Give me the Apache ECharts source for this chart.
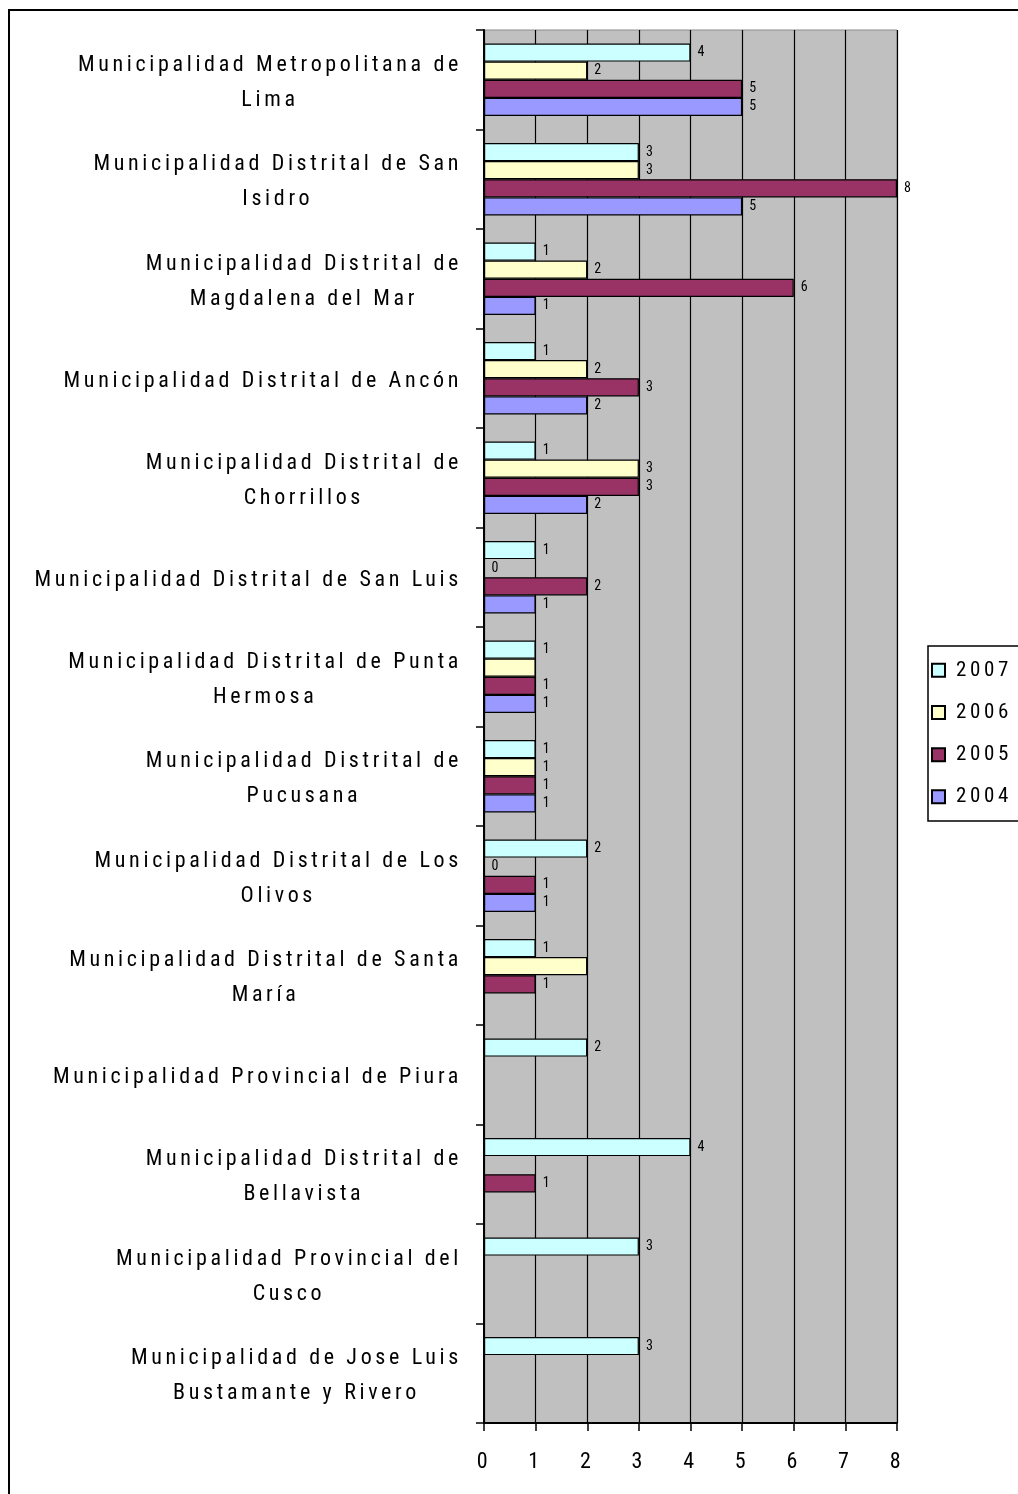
<!DOCTYPE html>
<html>
<head>
<meta charset="utf-8">
<script src="https://cdn.jsdelivr.net/npm/echarts@6/dist/echarts.min.js"></script>
<style>
html,body{margin:0;padding:0;background:#fff;}
#c{width:1018px;height:1494px;}
</style>
</head>
<body>
<div id="c"></div>
<script>
// ---- data ----
const categories = [
  "Municipalidad Metropolitana de\nLima",
  "Municipalidad Distrital de San\nIsidro",
  "Municipalidad Distrital de\nMagdalena del Mar",
  "Municipalidad Distrital de Ancón",
  "Municipalidad Distrital de\nChorrillos",
  "Municipalidad Distrital de San Luis",
  "Municipalidad Distrital de Punta\nHermosa",
  "Municipalidad Distrital de\nPucusana",
  "Municipalidad Distrital de Los\nOlivos",
  "Municipalidad Distrital de Santa\nMaría",
  "Municipalidad Provincial de Piura",
  "Municipalidad Distrital de\nBellavista",
  "Municipalidad Provincial del\nCusco",
  "Municipalidad de Jose Luis\nBustamante y Rivero"
];
const years = ["2007", "2006", "2005", "2004"];
const v2007 = [4, 3, 1, 1, 1, 1, 1, 1, 2, 1, 2, 4, 3, 3];
const v2006 = [2, 3, 2, 2, 3, 0, 1, 1, 0, 2, null, null, null, null];
const v2005 = [5, 8, 6, 3, 3, 2, 1, 1, 1, 1, null, 1, null, null];
const v2004 = [5, 5, 1, 2, 2, 1, 1, 1, 1, null, null, null, null, null];
const xTickMin = 0, xTickMax = 8, xTickStep = 1;
// data labels that are not shown in the original: [category index, year]
const hiddenLabels = [[6, "2006"], [9, "2006"]];

// ---- styles ----
const colors = {"2007": "#CCFFFF", "2006": "#FFFFCC", "2005": "#993366", "2004": "#9999FF"};
const seriesValues = {"2007": v2007, "2006": v2006, "2005": v2005, "2004": v2004};

// pick a condensed font if one is installed
const mctx = document.createElement('canvas').getContext('2d');
const hasLS = ('letterSpacing' in mctx);
const SAMPLE = "Municipalidad Metropolitana de";
function measureW(font) {
  if (hasLS) mctx.letterSpacing = '0px';
  mctx.font = font;
  return mctx.measureText(SAMPLE).width;
}
const monoW = measureW('21px monospace');
const candidates = [
  {fam: '"Liberation Sans Narrow"', st: ''},
  {fam: '"Arial Narrow"', st: ''},
  {fam: '"Roboto Condensed"', st: ''},
  {fam: 'Roboto', st: 'condensed'},
  {fam: '"Open Sans"', st: 'condensed'},
  {fam: '"Noto Sans"', st: 'condensed'},
  {fam: '"DejaVu Sans Condensed"', st: ''}
];
let FAM = '"Liberation Sans"', STRETCH = 'normal';
for (const c of candidates) {
  const exists = Math.abs(measureW('21px ' + c.fam + ', monospace') - monoW) > 1;
  if (!exists) continue;
  if (!c.st) { FAM = c.fam; STRETCH = 'normal'; break; }
  const wn = measureW('21px ' + c.fam);
  const wc = measureW('normal ' + c.st + ' 21px ' + c.fam);
  if (wc < wn * 0.93) { FAM = c.fam; STRETCH = c.st; break; }
}
const FONT = FAM + ', "Liberation Sans", sans-serif';
const WEIGHT = STRETCH === 'normal' ? 'normal' : ('normal ' + STRETCH);

let spacing = 0;
if (hasLS) {
  const w0 = measureW('normal ' + WEIGHT + ' 22px ' + FONT);
  spacing = Math.max(0, (384 - w0) / SAMPLE.length);
  mctx.letterSpacing = spacing.toFixed(2) + 'px';
  echarts.setPlatformAPI({
    measureText: function (text, font) {
      mctx.font = font || ('12px ' + FONT);
      return mctx.measureText(text);
    }
  });
}

function seriesData(year) {
  return seriesValues[year].map(function (v, i) {
    const hide = hiddenLabels.some(function (h) { return h[0] === i && h[1] === year; });
    if (v === null) return '-';
    return hide ? {value: v, label: {show: false}} : v;
  });
}

const txt = {fontFamily: FONT, fontWeight: WEIGHT, color: '#000'};

const option = {
  animation: false,
  backgroundColor: '#ffffff',
  textStyle: txt,
  graphic: [{
    type: 'rect',
    shape: {x: 9, y: 10, width: 1100, height: 1600},
    style: {fill: 'none', stroke: '#000', lineWidth: 2},
    silent: true
  }],
  grid: {
    left: 484, right: 121, top: 30, bottom: 71,
    show: true, backgroundColor: '#C0C0C0', borderColor: '#8c8c8c', borderWidth: 1
  },
  legend: {
    orient: 'vertical',
    left: 928, top: 646,
    data: years,
    icon: 'rect',
    itemWidth: 13, itemHeight: 13, itemGap: 17.5,
    padding: [12, 40, 12, 3],
    borderColor: '#000', borderWidth: 1.5,
    textStyle: Object.assign({fontSize: 21, padding: [0, 0, 0, 6]}, txt)
  },
  xAxis: {
    type: 'value',
    min: xTickMin, max: xTickMax, interval: xTickStep,
    axisLine: {show: true, lineStyle: {color: '#000', width: 2}},
    axisTick: {show: true, length: 8, lineStyle: {color: '#000', width: 1.5}},
    axisLabel: Object.assign({fontSize: 22, margin: 27}, txt),
    splitLine: {show: true, lineStyle: {color: '#000', width: 1.2}}
  },
  yAxis: {
    type: 'category',
    inverse: true,
    data: categories,
    axisLine: {show: true, lineStyle: {color: '#000', width: 2}},
    axisTick: {show: true, length: 8, lineStyle: {color: '#000', width: 1.5}},
    axisLabel: {
      margin: 22,
      padding: [6, 0, 0, 0],
      formatter: function (val) {
        return val.split('\n').map(function (l) { return '{c|' + l + '}'; }).join('\n');
      },
      rich: {c: Object.assign({align: 'center', fontSize: 22, lineHeight: 35}, txt)}
    },
    splitLine: {show: false}
  },
  series: years.map(function (y) {
    return {
      name: y,
      type: 'bar',
      barGap: '0%',
      barCategoryGap: '27%',
      data: seriesData(y),
      itemStyle: {color: colors[y], borderColor: '#000', borderWidth: 1.2},
      label: Object.assign({show: true, position: 'right', distance: 7, fontSize: 14}, txt)
    };
  })
};

const dom = document.getElementById('c');
const chart = echarts.init(dom, null, {renderer: 'canvas'});
chart.setOption(option);
const cv = dom.querySelector('canvas');
if (cv && hasLS) {
  cv.getContext('2d').letterSpacing = spacing.toFixed(2) + 'px';
  chart.clear();
  chart.setOption(option);
}
</script>
</body>
</html>
